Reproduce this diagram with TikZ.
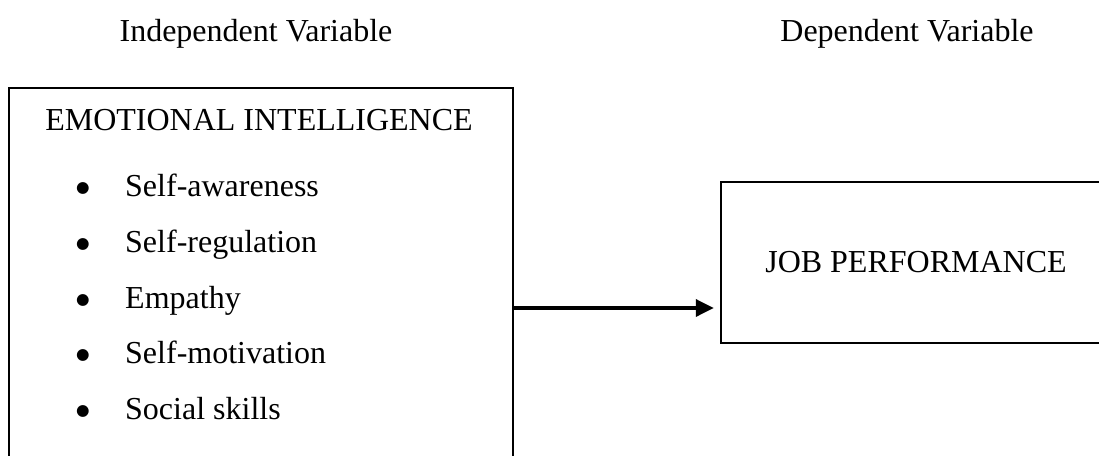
\documentclass[tikz,border=0pt]{standalone}
\usepackage{fontspec}
\setmainfont{Liberation Serif}
\newfontfamily\bulletfont{DejaVu Sans}
\usetikzlibrary{arrows.meta}
\begin{document}
\begin{tikzpicture}[x=1pt,y=-1pt,
  font=\fontsize{32}{38}\selectfont,
  lbl/.style={anchor=base, inner sep=0pt},
  box/.style={draw, line width=2pt, inner sep=0pt},
  itemtext/.style={anchor=base west, inner sep=0pt},
  bul/.style={anchor=center, inner sep=0pt, font=\fontsize{15.5}{15.5}\bulletfont},
  link/.style={line width=3.5pt, -{Triangle[length=18pt,width=17pt]}}]
\useasboundingbox (0,0) rectangle (1099,455);
\clip (0,0) rectangle (1099,455);
% headings
\node[lbl] (iv) at (256,41) {Independent Variable};
\node[lbl] (dv) at (907,41) {Dependent Variable};
% left box
\node[box, anchor=north west, minimum width=504pt, minimum height=420pt] (ei) at (8,87) {};
\node[lbl] (eit) at (259,130) {EMOTIONAL INTELLIGENCE};
\foreach \t/\y/\n in {Self-awareness/196/1, Self-regulation/252/2, Empathy/308/3, Self-motivation/363/4, Social skills/419/5}{
  \node[bul] (b\n) at (83,\y-8) {●};
  \node[itemtext] (i\n) at (125,\y) {\t};
}
% right box
\node[box, line width=2.5pt, minimum width=390pt, minimum height=161pt] (jp) at (916,262.5) {JOB PERFORMANCE};
% arrow
\coordinate (ay) at (0,308);
\draw[link] (ei.east |- ay) -- ([xshift=-6pt]jp.west |- ay);
\end{tikzpicture}
\end{document}
